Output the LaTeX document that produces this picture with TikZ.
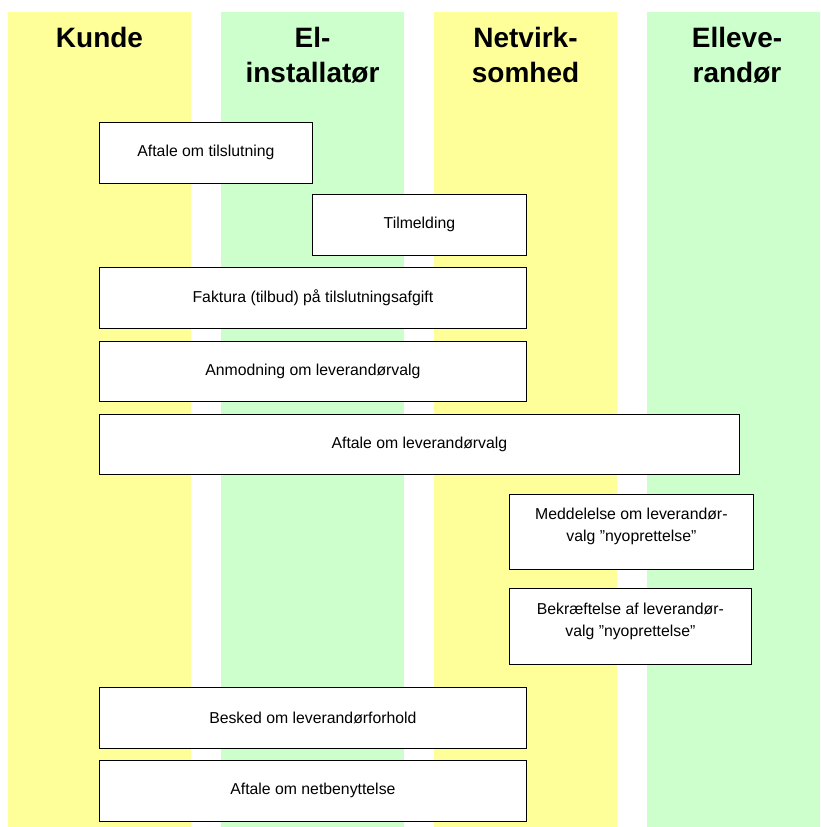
\documentclass[tikz,border=0pt]{standalone}
\usepackage{fontspec}
\setmainfont{Liberation Sans}
\definecolor{lysgul}{HTML}{FFFF99}
\definecolor{lysgroen}{HTML}{CCFFCC}

\begin{document}
\begin{tikzpicture}[x=1pt,y=-1pt,
  rolle/.style={font=\fontsize{28}{35}\selectfont\bfseries, align=center, anchor=base, inner sep=0pt},
  besked/.style={draw=black, fill=white, line width=0.8pt, anchor=north west,
    font=\fontsize{15.8}{22}\selectfont, align=center, inner sep=2pt}]
\useasboundingbox (0,0) rectangle (820,827);
%
\fill[lysgul] (8,12) rectangle (191,827);
\fill[lysgroen] (221,12) rectangle (404,827);
\fill[lysgul] (434,12) rectangle (617,827);
\fill[lysgroen] (647,12) rectangle (820,827);
%
\node[rolle] (kunde) at (99.5,47) {Kunde};
\node[rolle] (installator) at (312.5,82) {El-\\installatør};
\node[rolle] (netvirk) at (525.5,82) {Netvirk-\\somhed};
\node[rolle] (levrandor) at (737,82) {Elleve-\\randør};
%
\node[besked, minimum width=213pt, minimum height=61pt] (tilslutning) at (99,122) {Aftale om tilslutning};
\node[besked, minimum width=214pt, minimum height=61pt] (tilmelding) at (312,194) {Tilmelding};
\node[besked, minimum width=427pt, minimum height=61pt] (faktura) at (99,267) {Faktura (tilbud) på tilslutningsafgift};
\node[besked, minimum width=427pt, minimum height=60pt] (anmodning) at (99,341) {Anmodning om leverandørvalg};
\node[besked, minimum width=640pt, minimum height=60pt] (levvalg) at (99,414) {Aftale om leverandørvalg};
%
\node[besked, minimum width=244pt, minimum height=75pt] (meddelelse) at (509,494) {Meddelelse om leverandør-\\valg ”nyoprettelse”\\[-8pt]\mbox{}};
\node[besked, minimum width=242pt, minimum height=76pt] (bekraeft) at (509,588) {Bekræftelse af leverandør-\\valg ”nyoprettelse”\\[-8pt]\mbox{}};
%
\node[besked, minimum width=427pt, minimum height=61pt] (forhold) at (99,687) {Besked om leverandørforhold};
\node[besked, minimum width=427pt, minimum height=61pt] (netbenyt) at (99,760) {Aftale om netbenyttelse};
\end{tikzpicture}
\end{document}
